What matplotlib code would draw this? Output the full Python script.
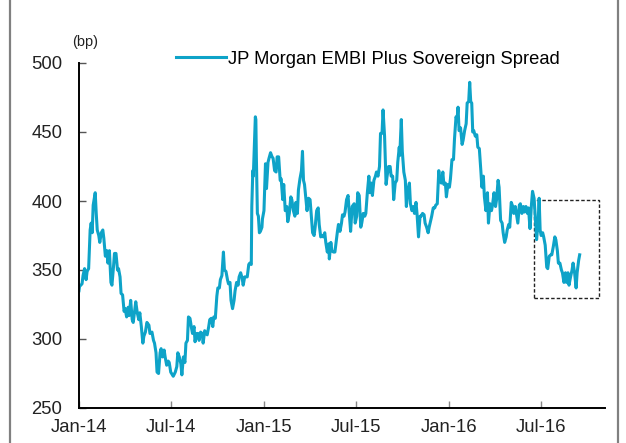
import matplotlib
matplotlib.use('Agg')
import matplotlib.pyplot as plt
import matplotlib.dates as mdates
from matplotlib.patches import Rectangle
from matplotlib.lines import Line2D
import numpy as np

plt.rcParams['font.family'] = ['Liberation Sans', 'DejaVu Sans']

# days since 2014-01-01 and spread (bp)
start = np.datetime64('2014-01-01')
days = [0, 1, 6, 8, 11, 14, 16, 19, 22, 24, 26, 28, 31, 32, 34, 36, 39, 41, 44, 47,
        49, 52, 55, 57, 60, 63, 65, 68, 70, 73, 76, 78, 81, 83, 86, 89, 91, 94, 97, 99,
        102, 105, 107, 110, 112, 115, 118, 120, 123, 126, 128, 131, 134, 138, 140, 144, 147, 149, 152, 154,
        157, 160, 162, 165, 168, 170, 173, 176, 178, 181, 186, 190, 193, 195, 198, 201, 203, 206, 209, 211,
        214, 216, 219, 222, 224, 227, 229, 232, 235, 237, 240, 243, 245, 248, 251, 253, 256, 258, 261, 264,
        266, 269, 272, 274, 277, 279, 282, 285, 287, 290, 293, 295, 298, 300, 303, 306, 308, 311, 314, 316,
        319, 322, 324, 327, 329, 332, 335, 337, 340, 341, 343, 344, 347, 348, 349, 350, 352, 354, 356, 358,
        361, 362, 365, 368, 370, 373, 375, 378, 381, 383, 386, 389, 391, 394, 397, 399, 402, 404, 407, 410,
        412, 415, 418, 420, 423, 426, 428, 431, 433, 436, 439, 441, 443, 445, 448, 450, 453, 456, 458, 461,
        464, 466, 469, 472, 474, 477, 479, 482, 485, 487, 490, 493, 494, 497, 499, 502, 505, 507, 510, 512,
        515, 518, 520, 523, 525, 528, 531, 533, 536, 539, 543, 545, 548, 550, 553, 556, 558, 561, 564, 566,
        569, 572, 574, 577, 579, 582, 585, 587, 590, 593, 595, 598, 600, 603, 606, 608, 611, 614, 616, 619,
        621, 624, 627, 629, 632, 633, 636, 638, 641, 644, 646, 649, 652, 654, 657, 660, 662, 665, 667, 670,
        673, 675, 678, 681, 683, 686, 689, 691, 694, 696, 699, 702, 704, 707, 710, 712, 715, 718, 720, 723,
        725, 728, 731, 733, 736, 739, 741, 744, 746, 748, 750, 753, 756, 758, 761, 764, 766, 769, 771, 773,
        775, 777, 779, 782, 785, 787, 790, 793, 795, 798, 800, 803, 806, 808, 811, 814, 816, 819, 822, 824,
        827, 829, 832, 835, 837, 840, 843, 845, 848, 850, 853, 856, 858, 861, 864, 866, 869, 871, 874, 877,
        879, 882, 885, 887, 890, 893, 895, 898, 900, 903, 906, 908, 910, 912, 915, 917, 920, 923, 925, 928,
        931, 933, 936, 939, 941, 944, 946, 949, 952, 954, 957, 960, 962, 965, 967, 970, 973, 975, 978, 981,
        983, 986, 988]
spread = [335, 338, 340, 346, 351, 343, 349, 351, 379, 384, 377, 397, 404, 406, 391, 379, 375, 370, 377, 379,
          373, 360, 364, 355, 364, 341, 339, 352, 362, 362, 350, 351, 345, 333, 332, 320, 322, 316, 323, 317,
          328, 314, 312, 321, 327, 319, 314, 319, 309, 297, 302, 305, 312, 310, 304, 305, 299, 297, 290, 276,
          275, 290, 293, 287, 292, 287, 281, 284, 283, 276, 273, 276, 280, 290, 287, 282, 274, 287, 283, 297,
          299, 316, 315, 308, 304, 309, 298, 304, 304, 299, 305, 304, 297, 306, 304, 303, 309, 314, 315, 309,
          316, 315, 331, 337, 337, 343, 346, 363, 350, 349, 343, 340, 341, 328, 322, 328, 335, 341, 339, 345,
          348, 344, 339, 345, 345, 345, 354, 355, 354, 396, 422, 418, 449, 461, 459, 432, 391, 389, 377, 378,
          381, 387, 393, 427, 409, 428, 431, 435, 432, 431, 422, 421, 432, 432, 415, 416, 401, 412, 393, 396,
          385, 391, 403, 401, 393, 389, 399, 391, 408, 416, 422, 436, 415, 412, 401, 393, 402, 401, 391, 377,
          375, 381, 393, 395, 383, 374, 375, 374, 377, 370, 363, 369, 358, 370, 364, 363, 363, 369, 378, 383,
          378, 384, 390, 389, 392, 401, 404, 393, 378, 396, 398, 384, 389, 406, 404, 381, 384, 391, 389, 391,
          406, 418, 406, 413, 404, 415, 418, 421, 418, 425, 449, 449, 466, 447, 412, 418, 425, 425, 418, 418,
          401, 413, 415, 428, 439, 433, 459, 436, 421, 415, 396, 408, 413, 398, 393, 396, 391, 399, 391, 374,
          389, 389, 391, 390, 384, 381, 377, 381, 386, 389, 395, 395, 397, 398, 422, 415, 413, 421, 412, 413,
          403, 412, 410, 416, 430, 430, 445, 461, 459, 468, 451, 453, 441, 444, 451, 456, 471, 472, 486, 472,
          471, 450, 451, 447, 448, 439, 438, 422, 410, 418, 403, 393, 406, 384, 398, 393, 397, 406, 396, 401,
          415, 410, 386, 384, 377, 370, 374, 379, 383, 381, 399, 396, 391, 396, 389, 384, 397, 398, 391, 396,
          392, 396, 391, 395, 380, 398, 407, 402, 391, 372, 384, 402, 379, 375, 377, 374, 368, 352, 351, 360,
          361, 361, 367, 374, 372, 364, 355, 355, 350, 348, 341, 348, 341, 348, 339, 345, 350, 355, 348, 337,
          348, 357, 361]
series_label = 'JP Morgan EMBI Plus Sovereign Spread'

# dashed box around the latest months
box_from, box_to = '2016-06-17', '2016-10-23'
box_low, box_high = 330, 401

dates = start + np.array(days).astype('timedelta64[D]')

fig = plt.figure(figsize=(6.26, 4.43), dpi=100)
ax = fig.add_axes([79 / 626, 1 - 408 / 443, (605 - 79) / 626, (408 - 63) / 443])

line, = ax.plot(dates, spread, color='#0ea3c8', linewidth=2.2, label=series_label)

x0 = mdates.date2num(np.datetime64(box_from))
x1 = mdates.date2num(np.datetime64(box_to))
ax.add_patch(Rectangle((x0, box_low), x1 - x0, box_high - box_low, fill=False,
                       edgecolor='#222222', linestyle=(0, (2.5, 1.5)), linewidth=1.0))

ax.set_ylim(250, 500)
ax.set_yticks([250, 300, 350, 400, 450, 500])
ax.set_xlim(np.datetime64('2014-01-01'), np.datetime64('2016-11-04'))
ax.xaxis.set_major_locator(mdates.MonthLocator(bymonth=[1, 7]))
ax.xaxis.set_major_formatter(mdates.DateFormatter('%b-%y'))

for s in ['top', 'right']:
    ax.spines[s].set_visible(False)
for s in ['left', 'bottom']:
    ax.spines[s].set_linewidth(1.4)
    ax.spines[s].set_color('black')
ax.tick_params(axis='y', direction='in', length=5, width=1, color='#555555', pad=12,
               labelsize=13.3, labelcolor='#222222')
ax.tick_params(axis='x', direction='in', length=5, width=1, color='#888888', pad=8,
               labelsize=13.3, labelcolor='#222222')

fig.text(85 / 626, 1 - 42 / 443, '(bp)', ha='center', va='center', fontsize=10.5, color='#222222')

fig.legend(handles=[line], loc='center left', bbox_to_anchor=(176 / 626, 1 - 59 / 443),
           frameon=False, fontsize=13.2, handlelength=2.7, handletextpad=0.15,
           borderpad=0, borderaxespad=0)

# frame lines at the sides of the picture
fig.add_artist(Line2D([10 / 626, 10 / 626], [0, 1], color='#808080', linewidth=1.6))
fig.add_artist(Line2D([618 / 626, 618 / 626], [0, 1], color='#808080', linewidth=1.6))

fig.savefig('out.png', dpi=100)
